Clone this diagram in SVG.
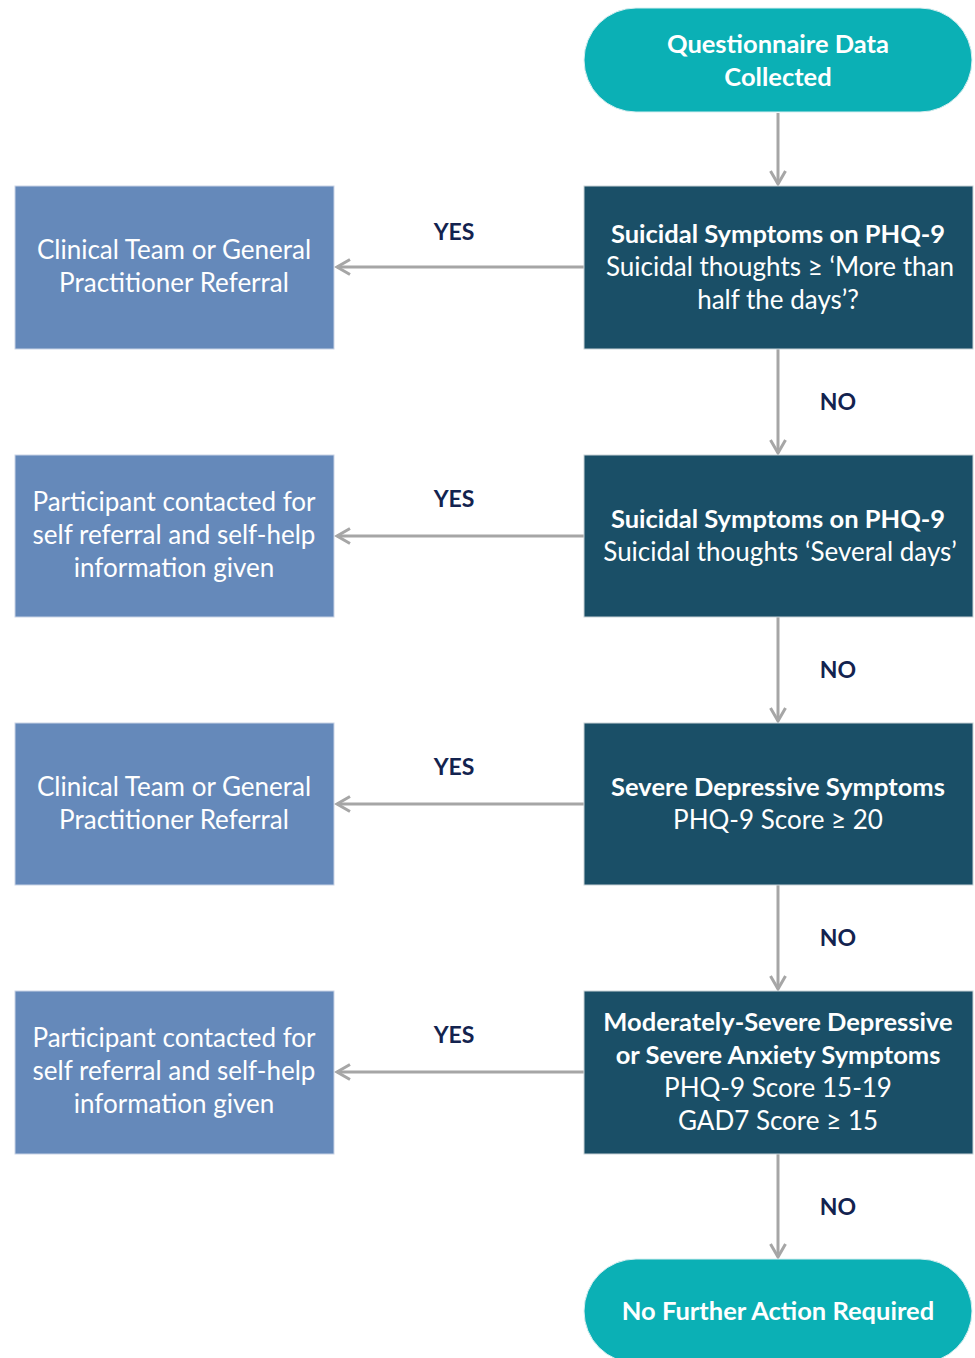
<svg xmlns="http://www.w3.org/2000/svg" width="975" height="1358" viewBox="0 0 975 1358">
<defs>
<marker id="ah" viewBox="0 0 20 20" refX="16" refY="10" markerWidth="20" markerHeight="20" markerUnits="userSpaceOnUse" orient="auto">
<path d="M3,2.5 L16,10 L3,17.5" fill="none" stroke="#A6A6A6" stroke-width="3"/>
</marker>
<style>
.pill{fill:#0BB0B5;stroke:#d8eef0;stroke-width:1}
.dec{fill:#1A4F67;stroke:#c9d3d8;stroke-width:1}
.act{fill:#6589BA;stroke:#c9d3e6;stroke-width:1}
.w{fill:#ffffff;font-family:Lato,"Liberation Sans",sans-serif;font-size:26px;text-anchor:middle}
.b{font-weight:bold;font-size:25.5px}
.lab{fill:#13234F;font-family:Lato,"Liberation Sans",sans-serif;font-size:23px;font-weight:bold;text-anchor:middle}
.con{stroke:#A6A6A6;stroke-width:3;fill:none;marker-end:url(#ah)}
</style>
</defs>
<rect width="975" height="1358" fill="#ffffff"/>
<g id="connectors">
<line class="con" x1="778" y1="113" x2="778" y2="184"/>
<line class="con" x1="778" y1="349" x2="778" y2="453"/>
<line class="con" x1="778" y1="617" x2="778" y2="721"/>
<line class="con" x1="778" y1="885" x2="778" y2="989"/>
<line class="con" x1="778" y1="1154" x2="778" y2="1257"/>
<line class="con" x1="584" y1="267" x2="337" y2="267"/>
<line class="con" x1="584" y1="536" x2="337" y2="536"/>
<line class="con" x1="584" y1="804" x2="337" y2="804"/>
<line class="con" x1="584" y1="1072" x2="337" y2="1072"/>
<text class="lab" x="454" y="240">YES</text>
<text class="lab" x="454" y="507">YES</text>
<text class="lab" x="454" y="775">YES</text>
<text class="lab" x="454" y="1043">YES</text>
<text class="lab" x="838" y="410">NO</text>
<text class="lab" x="838" y="678">NO</text>
<text class="lab" x="838" y="946">NO</text>
<text class="lab" x="838" y="1215">NO</text>
</g>
<g id="start">
<rect class="pill" x="584" y="8" width="388" height="104" rx="52"/>
<text class="w b" x="778" y="53">Questionnaire Data</text>
<text class="w b" x="778" y="86">Collected</text>
</g>
<g id="q1">
<rect class="dec" x="584" y="186" width="389" height="163"/>
<text class="w b" x="778" y="243">Suicidal Symptoms on PHQ-9</text>
<text class="w" x="780" y="276">Suicidal thoughts ≥ ‘More than</text>
<text class="w" x="778" y="309">half the days’?</text>
</g>
<g id="q2">
<rect class="dec" x="584" y="455" width="389" height="162"/>
<text class="w b" x="778" y="528">Suicidal Symptoms on PHQ-9</text>
<text class="w" x="780" y="561">Suicidal thoughts ‘Several days’</text>
</g>
<g id="q3">
<rect class="dec" x="584" y="723" width="389" height="162"/>
<text class="w b" x="778" y="796">Severe Depressive Symptoms</text>
<text class="w" x="778" y="829">PHQ-9 Score ≥ 20</text>
</g>
<g id="q4">
<rect class="dec" x="584" y="991" width="389" height="163"/>
<text class="w b" x="778" y="1031">Moderately-Severe Depressive</text>
<text class="w b" x="778" y="1064">or Severe Anxiety Symptoms</text>
<text class="w" x="778" y="1097">PHQ-9 Score 15-19</text>
<text class="w" x="778" y="1130">GAD7 Score ≥ 15</text>
</g>
<g id="end">
<rect class="pill" x="584" y="1259" width="388" height="104" rx="52"/>
<text class="w b" x="778" y="1320">No Further Action Required</text>
</g>
<g id="a1">
<rect class="act" x="15" y="186" width="319" height="163"/>
<text class="w" x="174" y="259">Clinical Team or General</text>
<text class="w" x="174" y="292">Practitioner Referral</text>
</g>
<g id="a2">
<rect class="act" x="15" y="455" width="319" height="162"/>
<text class="w" x="174" y="511">Participant contacted for</text>
<text class="w" x="174" y="544">self referral and self-help</text>
<text class="w" x="174" y="577">information given</text>
</g>
<g id="a3">
<rect class="act" x="15" y="723" width="319" height="162"/>
<text class="w" x="174" y="796">Clinical Team or General</text>
<text class="w" x="174" y="829">Practitioner Referral</text>
</g>
<g id="a4">
<rect class="act" x="15" y="991" width="319" height="163"/>
<text class="w" x="174" y="1047">Participant contacted for</text>
<text class="w" x="174" y="1080">self referral and self-help</text>
<text class="w" x="174" y="1113">information given</text>
</g>
</svg>
